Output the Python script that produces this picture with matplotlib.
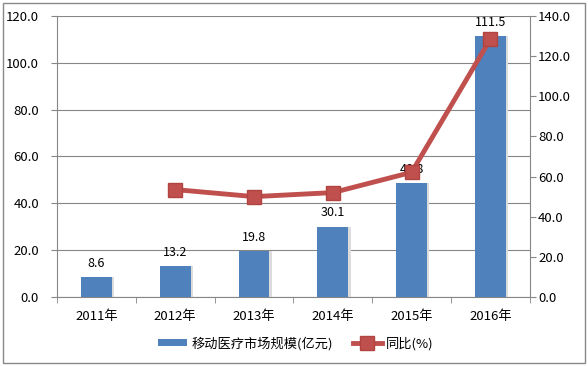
import matplotlib.pyplot as plt
import numpy as np

plt.rcParams['font.family'] = ['Noto Sans CJK SC', 'DejaVu Sans']

# data
years = ["2011年", "2012年", "2013年", "2014年", "2015年", "2016年"]
market = [8.6, 13.2, 19.8, 30.1, 48.8, 111.5]
yoy_years = [1, 2, 3, 4, 5]
yoy = [53.5, 50.0, 52.0, 62.1, 128.5]
left_ticks = [0, 20, 40, 60, 80, 100, 120]
right_ticks = [0, 20, 40, 60, 80, 100, 120, 140]

bar_col = '#4F81BD'
line_col = '#C0504D'
grid_col = '#868686'

fig = plt.figure(figsize=(5.88, 3.66), dpi=100)
ax = fig.add_axes([0.097, 0.1885, 0.804, 0.768])
x = np.arange(len(years))

# bars with a slight shadow
ax.bar(x + 0.03, market, width=0.39, color='#dcdcdc', zorder=2)
ax.bar(x, market, width=0.39, color=bar_col, zorder=3, label='移动医疗市场规模(亿元)')
for xi, v in zip(x, market):
    ax.text(xi, v + 3, f"{v:.1f}", ha='center', va='bottom', fontsize=9, zorder=6)

ax.set_xlim(-0.5, len(years) - 0.5)
ax.set_ylim(0, 120)
ax.set_yticks(left_ticks)
ax.set_yticklabels([f"{t:.1f}" for t in left_ticks], fontsize=9.5)
ax.set_xticks(x)
ax.set_xticklabels(years, fontsize=9.5)
ax.tick_params(axis='x', length=0, pad=9)
ax.set_xticks(np.arange(-0.5, len(years), 1), minor=True)
ax.tick_params(axis='x', which='minor', length=4, color=grid_col)
ax.tick_params(axis='y', length=4, color=grid_col, pad=9)
ax.yaxis.grid(True, color=grid_col, linewidth=0.8, zorder=0)
ax.set_axisbelow(True)
for s in ['top', 'right']:
    ax.spines[s].set_visible(False)
for s in ['left', 'bottom']:
    ax.spines[s].set_color(grid_col)

ax2 = ax.twinx()
ax2.plot(yoy_years, yoy, color=line_col, linewidth=3.5, marker='s', markersize=9.5,
         markerfacecolor=line_col, markeredgecolor='#b04440', zorder=5, label='同比(%)')
ax2.set_ylim(0, 140)
ax2.set_yticks(right_ticks)
ax2.set_yticklabels([f"{t:.1f}" for t in right_ticks], fontsize=9.5)
ax2.tick_params(axis='y', length=4, color=grid_col, pad=2)
for s in ['top', 'left', 'bottom']:
    ax2.spines[s].set_visible(False)
ax2.spines['right'].set_color(grid_col)

h1, l1 = ax.get_legend_handles_labels()
h2, l2 = ax2.get_legend_handles_labels()
fig.legend(h1 + h2, l1 + l2, loc='center', bbox_to_anchor=(0.503, 0.062), ncol=2,
           frameon=False, fontsize=9.5, handlelength=2.2, handleheight=0.5,
           columnspacing=1.5, handletextpad=0.3)

# outer border
fig.patches.append(plt.Rectangle((0.005, 0.008), 0.99, 0.984, transform=fig.transFigure,
                                 fill=False, edgecolor='#888888', linewidth=1))

fig.savefig('out.png', dpi=100)
